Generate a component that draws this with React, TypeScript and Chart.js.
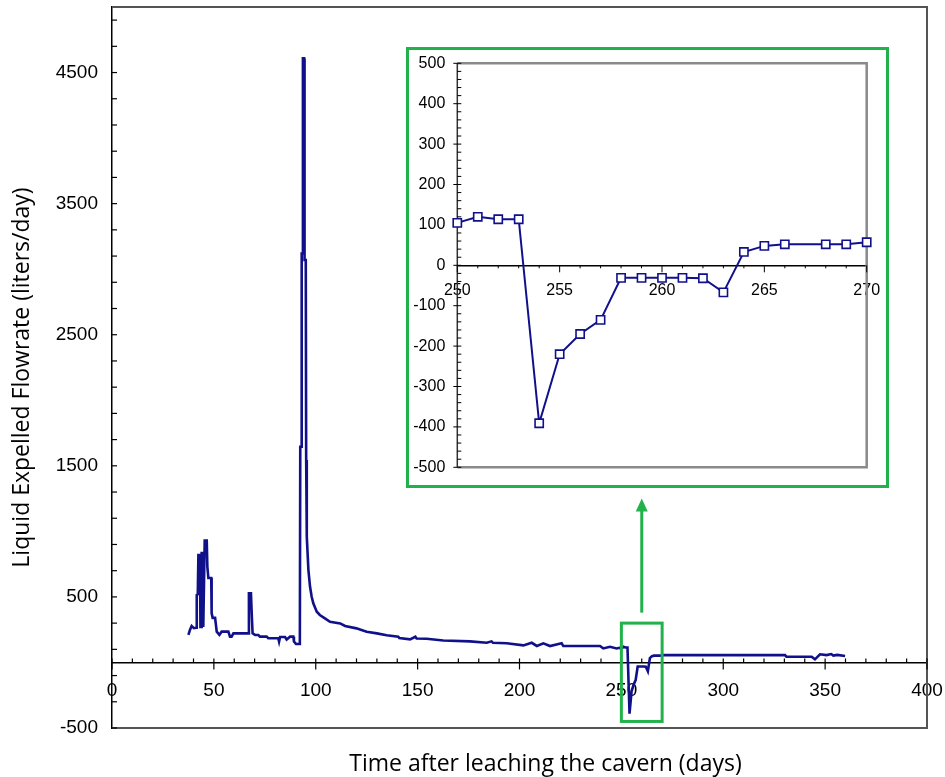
import { useEffect, useRef } from "react";
import { Chart, registerables } from "chart.js";

Chart.register(...registerables);

// ---- Main series: days after leaching vs liquid expelled flowrate (liters/day)
const earlyDays = [
  37.5, 38.3, 39.1, 40.2, 41.3, 41.6, 42.1, 42.4, 43.2, 43.4, 43.7, 44.0, 44.6, 44.8, 45.1, 45.5, 46.5, 46.8,
  47.3, 48.7, 48.9, 49.4, 50.6, 51.4, 52.7, 53.8, 57.1, 57.9, 58.7, 59.6, 66.9, 67.2, 68.2, 68.6, 69.0, 70.2,
  71.8, 72.6, 75.9, 76.7, 81.6, 82.0, 82.5, 84.9, 85.7, 87.4, 89.0, 89.3, 90.3, 92.2, 92.4, 93.0, 93.1, 93.6,
  93.7, 94.3, 94.5, 95.1, 95.3, 95.6, 96.4, 97.2, 98.0, 98.8, 100.5, 102.0, 104.5, 107.0, 112.0, 114.4, 120.0,
  121.7, 125.0, 130.0, 134.8, 140.5, 141.0, 146.3, 148.9, 149.5, 154.4, 162.6, 175.7, 183.9, 186.3, 187.0,
  193.7, 201.9, 206.0, 208.5, 211.7, 215.0, 220.7, 221.5, 239.5, 241.1, 244.4, 247.7, 249.0,
];
const earlyFlow = [
  210, 250, 278, 262, 265, 515, 520, 820, 820, 270, 270, 835, 835, 270, 270, 929, 929, 730,
  644, 644, 377, 340, 340, 235, 210, 235, 235, 197, 197, 222, 222, 528, 528, 362, 222, 210,
  210, 197, 197, 185, 185, 159, 194, 194, 175, 197, 197, 159, 141, 141, 1645, 1645, 3120, 3120,
  4608, 4608, 3070, 3070, 1544, 960, 705, 577, 501, 451, 387, 362, 336, 310, 298, 278, 260,
  252, 234, 222, 207, 196, 186, 176, 196, 183, 181, 168, 161, 150, 161, 150,
  146, 130, 150, 126, 146, 125, 146, 125, 125, 107, 120, 107, 112,
];

// Zoomed window (also shown in the inset)
const zoomDays = [250, 251, 252, 253, 254, 255, 256, 257, 258, 259, 260, 261, 262, 263, 264, 265, 266, 268, 269, 270];
const zoomFlow = [105, 120, 114, 114, -391, -220, -170, -135, -31, -31, -31, -31, -32, -67, 33, 48, 52, 52, 52, 57];

const lateDays = [300, 330.3, 331, 343.4, 345, 347.5, 350.7, 353, 354, 356, 359.8];
const lateFlow = [56, 56, 44, 44, 24, 62, 56, 64, 52, 58, 49];

// ---- Axes
const mainXRange = [0, 400];
const mainYRange = [-500, 5000];
const mainXStep = 10;
const mainYStep = 200;
const mainXLabels = [0, 50, 100, 150, 200, 250, 300, 350, 400];
const mainYLabels = [-500, 500, 1500, 2500, 3500, 4500];
const mainXTitle = "Time after leaching the cavern (days)";
const mainYTitle = "Liquid Expelled Flowrate (liters/day)";

const insetXRange = [250, 270];
const insetYRange = [-500, 500];
const insetXStep = 1;
const insetYStep = 20;
const insetXLabels = [250, 255, 260, 265, 270];
const insetYLabels = [-500, -400, -300, -200, -100, 0, 100, 200, 300, 400, 500];

// ---- Annotation (highlight box and arrow on main chart, in data units)
const highlightDays = [250, 270];
const highlightFlow = [300, -450];
const arrowDay = 260;
const arrowFlow = [380, 1250];

const NAVY = "#10108a";
const GREEN = "#22b24c";
const TICK_FONT = "'Liberation Sans', Arial, sans-serif";
const TITLE_FONT = "'Open Sans', sans-serif";

function stepValues(min: number, max: number, step: number) {
  const out: number[] = [];
  for (let v = min; v <= max + 1e-9; v += step) out.push(Math.round(v * 1000) / 1000);
  return out;
}

function noPad(s: any) {
  s.paddingTop = 0;
  s.paddingBottom = 0;
  s.paddingLeft = 0;
  s.paddingRight = 0;
}

function line(ctx: CanvasRenderingContext2D, x1: number, y1: number, x2: number, y2: number) {
  ctx.beginPath();
  ctx.moveTo(x1, y1);
  ctx.lineTo(x2, y2);
  ctx.stroke();
}

const mainDecor = {
  id: "mainDecor",
  afterDraw(chart: any) {
    const { ctx, chartArea: a, scales } = chart;
    const x = scales.x;
    const y = scales.y;
    ctx.save();
    ctx.strokeStyle = "#555";
    ctx.lineWidth = 2;
    ctx.beginPath();
    ctx.moveTo(a.left, a.top);
    ctx.lineTo(a.right, a.top);
    ctx.lineTo(a.right, a.bottom);
    ctx.lineTo(a.left, a.bottom);
    ctx.stroke();

    ctx.strokeStyle = "#000";
    ctx.lineWidth = 1.2;
    for (const t of y.ticks) {
      const py = y.getPixelForValue(t.value);
      line(ctx, a.left, py, a.left + 5, py);
    }
    const y0 = y.getPixelForValue(0);
    for (const t of x.ticks) {
      const px = x.getPixelForValue(t.value);
      const major = mainXLabels.includes(t.value);
      line(ctx, px, y0 - 4, px, major ? y0 + 7 : y0);
    }

    // highlight box
    const bx1 = x.getPixelForValue(highlightDays[0]);
    const bx2 = x.getPixelForValue(highlightDays[1]);
    const by1 = y.getPixelForValue(highlightFlow[0]);
    const by2 = y.getPixelForValue(highlightFlow[1]);
    ctx.strokeStyle = GREEN;
    ctx.lineWidth = 3;
    ctx.strokeRect(bx1, by1, bx2 - bx1, by2 - by1);

    // arrow
    const ax = x.getPixelForValue(arrowDay);
    const ay1 = y.getPixelForValue(arrowFlow[0]);
    const ay2 = y.getPixelForValue(arrowFlow[1]);
    line(ctx, ax, ay1, ax, ay2 + 10);
    ctx.fillStyle = GREEN;
    ctx.beginPath();
    ctx.moveTo(ax, ay2);
    ctx.lineTo(ax - 6, ay2 + 13);
    ctx.lineTo(ax + 6, ay2 + 13);
    ctx.closePath();
    ctx.fill();

    // axis titles
    ctx.fillStyle = "#000";
    ctx.font = `23px ${TITLE_FONT}`;
    ctx.textAlign = "center";
    ctx.textBaseline = "middle";
    ctx.fillText(mainXTitle, (a.left + a.right) / 2 + 26, a.bottom + 36);
    ctx.translate(22, (a.top + a.bottom) / 2 + 10);
    ctx.rotate(-Math.PI / 2);
    ctx.fillText(mainYTitle, 0, 0);
    ctx.restore();
  },
};

const insetDecor = {
  id: "insetDecor",
  beforeDatasetsDraw(chart: any) {
    const { ctx, chartArea: a, scales } = chart;
    const x = scales.x;
    const y = scales.y;
    ctx.save();
    ctx.strokeStyle = "#8a8a8a";
    ctx.lineWidth = 2.5;
    ctx.beginPath();
    ctx.moveTo(a.left, a.top);
    ctx.lineTo(a.right, a.top);
    ctx.lineTo(a.right, a.bottom);
    ctx.lineTo(a.left, a.bottom);
    ctx.stroke();
    ctx.strokeStyle = "#333";
    ctx.lineWidth = 1.5;
    line(ctx, a.left, a.top, a.left, a.bottom);

    ctx.strokeStyle = "#000";
    ctx.lineWidth = 1;
    for (const t of y.ticks) {
      const py = y.getPixelForValue(t.value);
      const major = insetYLabels.includes(t.value);
      line(ctx, major ? a.left - 4 : a.left, py, a.left + 4, py);
    }
    const y0 = y.getPixelForValue(0);
    for (const t of x.ticks) {
      const px = x.getPixelForValue(t.value);
      const major = insetXLabels.includes(t.value);
      line(ctx, px, y0, px, y0 + (major ? 7 : 3));
    }
    ctx.restore();
  },
};

export default function App() {
  const mainRef = useRef<HTMLCanvasElement>(null);
  const insetRef = useRef<HTMLCanvasElement>(null);

  useEffect(() => {
    const allDays = [...earlyDays, ...zoomDays, ...lateDays];
    const allFlow = [...earlyFlow, ...zoomFlow, ...lateFlow];
    const mainData = allDays.map((d, i) => ({ x: d, y: allFlow[i] }));
    const insetData = zoomDays.map((d, i) => ({ x: d, y: zoomFlow[i] }));

    const main = new Chart(mainRef.current!, {
      type: "line",
      data: {
        datasets: [
          {
            data: mainData,
            borderColor: NAVY,
            borderWidth: 2.6,
            pointRadius: 0,
            tension: 0,
            fill: false,
          },
        ],
      },
      options: {
        animation: false,
        responsive: false,
        devicePixelRatio: 1,
        layout: { padding: { top: 7, right: 18, bottom: 49, left: 0 } },
        plugins: {
          legend: { display: false },
          tooltip: { enabled: false },
        },
        scales: {
          x: {
            type: "linear",
            min: mainXRange[0],
            max: mainXRange[1],
            position: { y: 0 },
            afterFit: (s: any) => {
              s.height = 0;
              noPad(s);
            },
            afterBuildTicks: (s: any) => {
              s.ticks = stepValues(mainXRange[0], mainXRange[1], mainXStep).map((v) => ({ value: v }));
            },
            grid: { display: false, drawTicks: false },
            border: { display: true, color: "#000", width: 1.5 },
            ticks: {
              autoSkip: false,
              maxRotation: 0,
              padding: 17,
              color: "#000",
              font: { family: TICK_FONT, size: 19 },
              callback: (v: any) => (mainXLabels.includes(Number(v)) ? String(v) : ""),
            },
          },
          y: {
            type: "linear",
            min: mainYRange[0],
            max: mainYRange[1],
            afterFit: (s: any) => {
              s.width = 112;
              noPad(s);
            },
            afterBuildTicks: (s: any) => {
              s.ticks = stepValues(mainYRange[0], mainYRange[1] - 100, mainYStep).map((v) => ({ value: v }));
            },
            grid: { display: false, drawTicks: false },
            border: { display: true, color: "#000", width: 1.5 },
            ticks: {
              autoSkip: false,
              padding: 14,
              color: "#000",
              font: { family: TICK_FONT, size: 19 },
              callback: (v: any) => (mainYLabels.includes(Number(v)) ? String(v) : ""),
            },
          },
        },
      },
      plugins: [mainDecor],
    } as any);

    const inset = new Chart(insetRef.current!, {
      type: "line",
      data: {
        datasets: [
          {
            data: insetData,
            borderColor: NAVY,
            borderWidth: 2,
            pointStyle: "rect",
            pointRadius: 5.8,
            pointBackgroundColor: "#fff",
            pointBorderColor: NAVY,
            pointBorderWidth: 1.6,
            tension: 0,
            fill: false,
            clip: false,
          },
        ],
      },
      options: {
        animation: false,
        responsive: false,
        devicePixelRatio: 1,
        layout: { padding: { top: 13.3, right: 19.3, bottom: 17.7, left: 0 } },
        plugins: { legend: { display: false }, tooltip: { enabled: false } },
        scales: {
          x: {
            type: "linear",
            min: insetXRange[0],
            max: insetXRange[1],
            position: { y: 0 },
            afterFit: (s: any) => {
              s.height = 0;
              noPad(s);
            },
            afterBuildTicks: (s: any) => {
              s.ticks = stepValues(insetXRange[0], insetXRange[1], insetXStep).map((v) => ({ value: v }));
            },
            grid: { display: false, drawTicks: false },
            border: { display: true, color: "#000", width: 1.5 },
            ticks: {
              autoSkip: false,
              maxRotation: 0,
              padding: 16,
              color: "#000",
              font: { family: TICK_FONT, size: 16 },
              callback: (v: any) => (insetXLabels.includes(Number(v)) ? String(v) : ""),
            },
          },
          y: {
            type: "linear",
            min: insetYRange[0],
            max: insetYRange[1],
            afterFit: (s: any) => {
              s.width = 48.3;
              noPad(s);
            },
            afterBuildTicks: (s: any) => {
              s.ticks = stepValues(insetYRange[0], insetYRange[1], insetYStep).map((v) => ({ value: v }));
            },
            grid: { display: false, drawTicks: false },
            border: { display: false },
            ticks: {
              autoSkip: false,
              padding: 12,
              color: "#000",
              font: { family: TICK_FONT, size: 16 },
              callback: (v: any) => (insetYLabels.includes(Number(v)) ? String(v) : ""),
            },
          },
        },
      },
      plugins: [insetDecor],
    } as any);

    return () => {
      main.destroy();
      inset.destroy();
    };
  }, []);

  return (
    <div style={{ position: "absolute", left: 0, top: 0, width: 945, height: 777, background: "#fff" }}>
      <canvas ref={mainRef} width={945} height={777} style={{ position: "absolute", left: 0, top: 0 }} />
      <div
        style={{
          position: "absolute",
          left: 406,
          top: 47,
          width: 483,
          height: 441,
          border: `3px solid ${GREEN}`,
          boxSizing: "border-box",
          background: "#fff",
        }}
      >
        <canvas ref={insetRef} width={477} height={435} style={{ display: "block" }} />
      </div>
    </div>
  );
}
